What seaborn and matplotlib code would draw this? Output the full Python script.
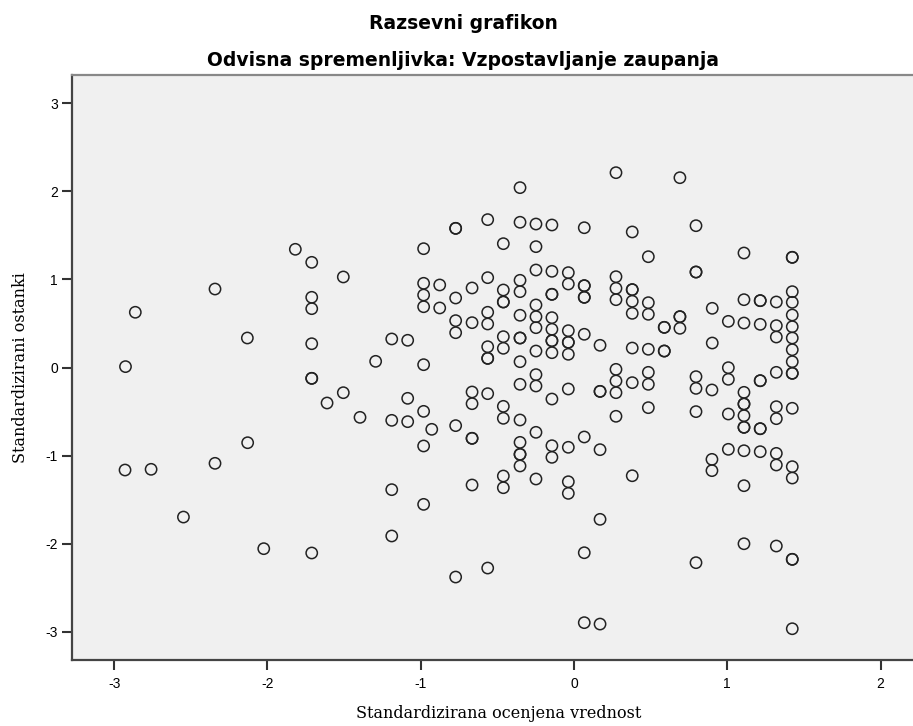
import matplotlib
matplotlib.use("Agg")
import matplotlib.pyplot as plt
import seaborn as sns
import pandas as pd

title_main = "Razsevni grafikon"
title_sub = "Odvisna spremenljivka: Vzpostavljanje zaupanja"
x_label = "Standardizirana ocenjena vrednost"
y_label = "Standardizirani ostanki"
x_ticks = [-3, -2, -1, 0, 1, 2]
y_ticks = [-3, -2, -1, 0, 1, 2, 3]

# standardized predicted value
predicted = [
    -1.818, -1.711, -1.505, -2.342, -1.711, -1.711, -2.862, -2.131, -1.711, -2.926,
    -1.711, -1.711, -1.505, -1.611, -2.129, -2.342, -2.929, -2.759, -2.548, -2.024, -1.711,
    0.274, -0.352, -0.563, -0.772, -0.772, -0.352, -0.248, -0.144, 0.067, -0.461,
    -0.248, -0.981, -0.248, -0.144, -0.037, 0.274, -0.981, -0.876, -0.563, -0.352,
    -0.665, -0.037, 0.067, 0.067, 0.274, -0.981, -0.461, -0.352, -0.144, -0.144,
    0.067, 0.067, -0.772, 0.274, -0.461, -0.461, -0.981, -0.876, -0.248, -0.563,
    -0.352, -0.248, -0.144, -0.772, -0.665, -0.563, -0.248, -0.144, -0.037, -0.772,
    0.067, -0.461, -0.352, -0.352, -0.144, -0.144, -0.037, -0.037, -1.189, -1.085,
    0.170, -0.563, -0.461, -0.248, -0.144, -0.037, -1.294, -0.981, -0.563, -0.563, -0.352,
    0.691, 0.380, 0.796, 0.485, 1.109, 1.424, 1.424, 0.796, 0.796, 0.380, 0.380,
    0.380, 0.485, 0.380, 0.485, 1.109, 1.215, 1.215, 1.320, 1.424, 1.424, 1.424,
    1.424, 1.424, 1.424, 1.424, 0.902, 0.691, 0.691, 0.691, 0.589, 0.589, 1.007,
    1.109, 1.215, 1.320, 1.320, 0.902, 0.380, 0.485, 0.589, 0.589,
    0.274, 0.274, 0.274, 0.274, -0.248, -0.248, -0.352, -0.037, 0.170, 0.170,
    -0.665, -0.665, -0.563, -1.085, -0.144, -0.461, -0.461, -0.352, -1.396, -1.189,
    -1.085, -0.981, -0.928, -0.772, -0.665, -0.665, -0.981, -0.248, -0.352, -0.352,
    -0.352, -0.352, -0.144, -0.144, -0.037, 0.067, 0.170, -0.461, -0.461, -0.248,
    -0.037, -0.037, -0.665, -1.189, -0.981, -1.189, 0.170, 0.067, -0.563, -0.772,
    0.067, 0.170,
    0.380, 0.485, 0.485, 0.485, 0.796, 0.796, 0.900, 0.796, 1.007, 1.007, 1.007,
    1.109, 1.109, 1.109, 1.109, 1.109, 1.109, 1.215, 1.215, 1.215, 1.215, 1.320,
    1.320, 1.320, 1.424, 1.424, 1.424, 0.380, 0.900, 0.900, 1.007, 1.109, 1.215,
    1.320, 1.320, 1.424, 1.424, 1.109, 1.109, 1.320, 1.424, 1.424, 0.796, 1.424,
]

# standardized residual
residual = [
    1.342, 1.194, 1.028, 0.891, 0.797, 0.668, 0.627, 0.335, 0.270, 0.010,
    -0.123, -0.123, -0.286, -0.403, -0.854, -1.088, -1.164, -1.156, -1.698, -2.057, -2.106,
    2.212, 2.042, 1.679, 1.580, 1.580, 1.649, 1.629, 1.618, 1.587, 1.406,
    1.372, 1.349, 1.107, 1.092, 1.077, 1.031, 0.956, 0.937, 1.020, 0.990,
    0.903, 0.948, 0.929, 0.929, 0.899, 0.823, 0.880, 0.861, 0.831, 0.831,
    0.797, 0.797, 0.789, 0.770, 0.744, 0.744, 0.690, 0.676, 0.710, 0.627,
    0.593, 0.577, 0.566, 0.532, 0.509, 0.494, 0.452, 0.434, 0.418, 0.395,
    0.377, 0.350, 0.335, 0.335, 0.304, 0.304, 0.286, 0.286, 0.324, 0.309,
    0.252, 0.236, 0.218, 0.187, 0.168, 0.150, 0.070, 0.032, 0.104, 0.104, 0.066,
    2.155, 1.539, 1.610, 1.258, 1.300, 1.251, 1.251, 1.084, 1.084, 0.884, 0.884,
    0.752, 0.736, 0.615, 0.604, 0.770, 0.759, 0.759, 0.744, 0.861, 0.740, 0.596,
    0.463, 0.335, 0.202, 0.066, 0.672, 0.577, 0.577, 0.445, 0.456, 0.456, 0.524,
    0.505, 0.490, 0.475, 0.346, 0.278, 0.221, 0.207, 0.187, 0.187,
    -0.021, -0.153, -0.286, -0.554, -0.081, -0.210, -0.191, -0.244, -0.271, -0.271,
    -0.278, -0.411, -0.297, -0.350, -0.358, -0.441, -0.577, -0.596, -0.566, -0.600,
    -0.615, -0.498, -0.702, -0.660, -0.804, -0.804, -0.891, -0.736, -0.850, -0.986,
    -0.986, -1.118, -0.888, -1.020, -0.906, -0.789, -0.933, -1.232, -1.365, -1.266,
    -1.297, -1.429, -1.334, -1.387, -1.554, -1.913, -1.724, -2.103, -2.277, -2.379,
    -2.897, -2.913,
    -0.172, -0.055, -0.191, -0.456, -0.104, -0.237, -0.255, -0.501, -0.002, -0.134, -0.528,
    -0.282, -0.414, -0.414, -0.547, -0.679, -0.679, -0.150, -0.150, -0.695, -0.695, -0.055,
    -0.445, -0.581, -0.066, -0.066, -0.463, -1.229, -1.043, -1.171, -0.929, -0.945, -0.956,
    -0.975, -1.107, -1.126, -1.255, -1.342, -2.001, -2.027, -2.178, -2.178, -2.216, -2.966,
]

df = pd.DataFrame({"pred": predicted, "resid": residual})

W, H = 913, 726
fig = plt.figure(figsize=(W / 100, H / 100), dpi=100)
fig.patch.set_facecolor("white")

left_px, right_px, top_px, bottom_px = 72, 925, 75, 660
ax = fig.add_axes([left_px / W, 1 - bottom_px / H,
                   (right_px - left_px) / W, (bottom_px - top_px) / H])
ax.set_facecolor("#f0f0f0")

sns.scatterplot(data=df, x="pred", y="resid", ax=ax, marker="o", s=66,
                facecolor="none", edgecolor="#222222", linewidth=1.1, legend=False)

ax.set_xlim(-3.275, 2.29)
ax.set_ylim(-3.321, 3.321)
ax.set_xticks(x_ticks)
ax.set_yticks(y_ticks)
ax.set_xticklabels([str(t) for t in x_ticks], family="Liberation Sans", fontsize=10)
ax.set_yticklabels([str(t) for t in y_ticks], family="Liberation Sans", fontsize=10)
ax.tick_params(axis="x", direction="out", length=7, width=1.5, color="#333333", pad=5,
               top=False)
ax.tick_params(axis="y", direction="out", length=7, width=1.5, color="#333333", pad=3,
               right=False)

for side in ["left", "bottom"]:
    ax.spines[side].set_color("#444444")
    ax.spines[side].set_linewidth(1.6)
ax.spines["top"].set_color("#888888")
ax.spines["top"].set_linewidth(1.6)
ax.spines["right"].set_visible(False)

ax.set_xlabel(x_label, family="DejaVu Serif", fontsize=11.5, labelpad=10)
ax.set_ylabel(y_label, family="DejaVu Serif", fontsize=11.5, labelpad=12)

fig.text(463 / W, 1 - 29 / H, title_main, ha="center", va="baseline",
         family="DejaVu Sans", fontweight="bold", fontsize=13.5)
fig.text(463 / W, 1 - 66 / H, title_sub, ha="center", va="baseline",
         family="DejaVu Sans", fontweight="bold", fontsize=13.5)

fig.savefig("out.png", dpi=100)
